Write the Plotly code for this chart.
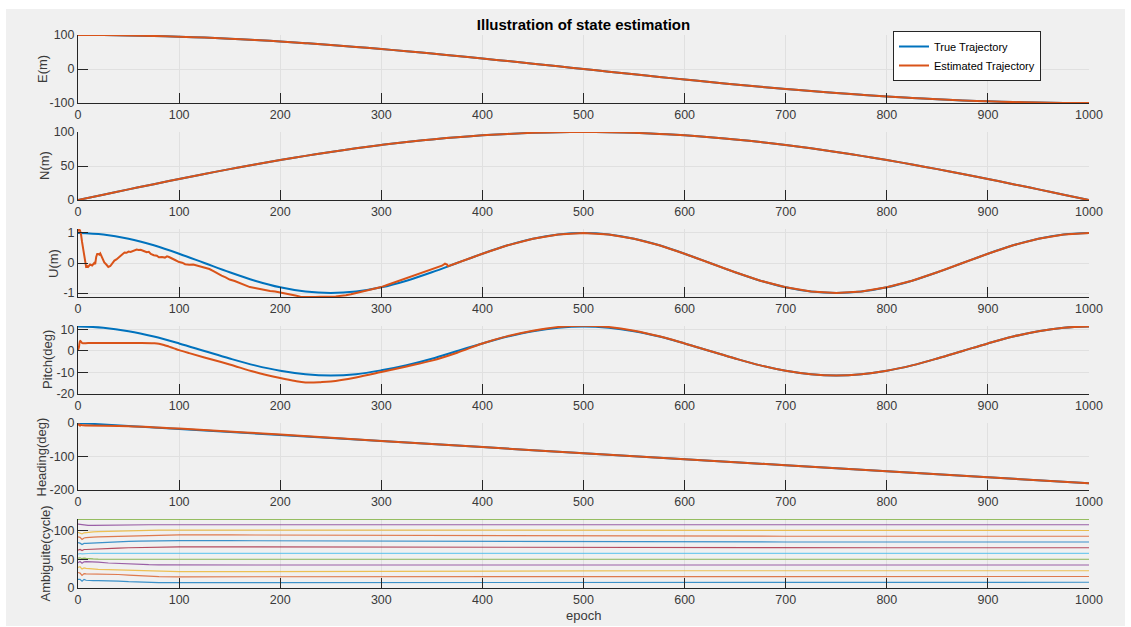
import plotly.graph_objects as go

W, H = 1131, 627

# ---------------- data ----------------
ep25 = [0, 25, 50, 75, 100, 125, 150, 175, 200, 225, 250, 275, 300, 325, 350, 375, 400,
        425, 450, 475, 500, 525, 550, 575, 600, 625, 650, 675, 700, 725, 750, 775, 800,
        825, 850, 875, 900, 925, 950, 975, 1000]

true_E = [100, 99.7, 98.8, 97.2, 95.1, 92.4, 89.1, 85.2, 80.9, 76.0, 70.7, 64.9, 58.8, 52.2,
          45.4, 38.3, 30.9, 23.3, 15.6, 7.8, 0, -7.8, -15.6, -23.3, -30.9, -38.3, -45.4,
          -52.2, -58.8, -64.9, -70.7, -76.0, -80.9, -85.2, -89.1, -92.4, -95.1, -97.2,
          -98.8, -99.7, -100]
est_E = [100, 99.7, 98.8, 97.2, 95.1, 92.4, 89.1, 85.2, 80.9, 76.0, 70.7, 64.9, 58.8, 52.2,
         45.4, 38.3, 30.9, 23.3, 15.6, 7.8, 0, -7.8, -15.6, -23.3, -30.9, -38.3, -45.4,
         -52.2, -58.8, -64.9, -70.7, -76.0, -80.9, -85.2, -89.1, -92.4, -95.1, -97.2,
         -98.8, -99.7, -100]

true_N = [0, 7.8, 15.6, 23.3, 30.9, 38.3, 45.4, 52.2, 58.8, 64.9, 70.7, 76.0, 80.9, 85.2,
          89.1, 92.4, 95.1, 97.2, 98.8, 99.7, 100, 99.7, 98.8, 97.2, 95.1, 92.4, 89.1, 85.2,
          80.9, 76.0, 70.7, 64.9, 58.8, 52.2, 45.4, 38.3, 30.9, 23.3, 15.6, 7.8, 0]
est_N = [0, 7.8, 15.6, 23.3, 30.9, 38.3, 45.4, 52.2, 58.8, 64.9, 70.7, 76.0, 80.9, 85.2,
         89.1, 92.4, 95.1, 97.2, 98.8, 99.7, 100, 99.7, 98.8, 97.2, 95.1, 92.4, 89.1, 85.2,
         80.9, 76.0, 70.7, 64.9, 58.8, 52.2, 45.4, 38.3, 30.9, 23.3, 15.6, 7.8, 0]

true_U = [1, 0.951, 0.809, 0.588, 0.309, 0, -0.309, -0.588, -0.809, -0.951, -1, -0.951,
          -0.809, -0.588, -0.309, 0, 0.309, 0.588, 0.809, 0.951, 1, 0.951, 0.809, 0.588,
          0.309, 0, -0.309, -0.588, -0.809, -0.951, -1, -0.951, -0.809, -0.588, -0.309, 0,
          0.309, 0.588, 0.809, 0.951, 1]

est_U_ep = [0, 1, 2, 3, 4, 5, 6, 7, 8, 9, 10, 12, 14, 16, 17, 18, 19, 20, 21, 22, 24, 26, 28,
            30, 32, 34, 36, 38, 40, 42, 44, 46, 48, 50, 52, 55, 58, 60, 62, 65, 68, 70, 72,
            75, 78, 80, 83, 86, 88, 90, 93, 96, 100, 103, 106, 110, 114, 118, 122, 126, 130,
            134, 138, 142, 146, 150, 155, 160, 165, 170, 175, 180, 185, 190, 195, 200, 205,
            210, 215, 220, 225, 230, 235, 240, 245, 250, 255, 260, 265, 270, 275, 280, 285,
            290, 295, 300, 305, 310, 315, 320, 325, 330, 335, 340, 345, 350, 355, 360, 363,
            364, 365, 366, 375, 400, 425, 450, 475, 500, 525, 550, 575, 600, 625, 650, 675,
            700, 725, 750, 775, 800, 825, 850, 875, 900, 925, 950, 975, 1000]
est_U = [1.05, 1.12, 1.08, 0.95, 0.7, 0.45, 0.35, 0.05, -0.12, -0.1, -0.13, -0.05, -0.08,
         0.0, -0.04, 0.2, 0.3, 0.3, 0.28, 0.32, 0.15, 0.02, -0.05, -0.13, -0.1, 0.0, 0.08,
         0.12, 0.18, 0.22, 0.3, 0.35, 0.34, 0.38, 0.37, 0.42, 0.45, 0.43, 0.44, 0.4, 0.36,
         0.37, 0.3, 0.26, 0.24, 0.19, 0.2, 0.18, 0.22, 0.2, 0.14, 0.1, 0.03, 0.01, -0.04,
         -0.06, -0.05, -0.09, -0.14, -0.18, -0.2, -0.27, -0.35, -0.42, -0.48, -0.55, -0.6,
         -0.66, -0.72, -0.8, -0.83, -0.87, -0.9, -0.93, -0.95, -0.98, -1.0, -1.05, -1.08,
         -1.12, -1.13, -1.12, -1.13, -1.12, -1.13, -1.12, -1.11, -1.1, -1.07, -1.04, -1.0,
         -0.97, -0.93, -0.89, -0.85, -0.8, -0.74, -0.68, -0.62, -0.57, -0.52, -0.45, -0.4,
         -0.33, -0.27, -0.2, -0.14, -0.09, -0.02, -0.04, -0.05, -0.11, 0, 0.309, 0.588,
         0.809, 0.951, 1, 0.951, 0.809, 0.588, 0.309, 0, -0.309, -0.588, -0.809, -0.951,
         -1, -0.951, -0.809, -0.588, -0.309, 0, 0.309, 0.588, 0.809, 0.951, 1]

true_P = [11.4, 10.8, 9.2, 6.7, 3.5, 0, -3.5, -6.7, -9.2, -10.8, -11.4, -10.8, -9.0, -6.6,
          -3.6, 0, 3.5, 6.7, 9.2, 10.8, 11.4, 10.8, 9.2, 6.7, 3.5, 0, -3.5, -6.7, -9.2,
          -10.8, -11.4, -10.8, -9.2, -6.7, -3.5, 0, 3.5, 6.7, 9.2, 10.8, 11.4]

est_P_ep = [0, 1, 2, 3, 4, 5, 10, 20, 40, 60, 75, 80, 85, 90, 95, 100, 110, 125, 150, 175,
            200, 215, 225, 240, 250, 275, 300, 325, 350, 375, 400, 425, 450, 475, 500, 525,
            550, 575, 600, 625, 650, 675, 700, 725, 750, 775, 800, 825, 850, 875, 900, 925,
            950, 975, 1000]
est_P = [0.5, 2.0, 4.7, 4.3, 3.7, 3.6, 3.7, 3.7, 3.7, 3.7, 3.6, 3.4, 2.8, 2.0, 1.2, 0.4,
         -1.0, -3.0, -6.3, -9.8, -12.6, -14.0, -14.6, -14.5, -14.2, -12.3, -9.8, -7.2,
         -4.5, -0.8, 3.5, 6.9, 9.4, 11.1, 11.7, 11.1, 9.4, 6.8, 3.5, 0, -3.5, -6.7, -9.2,
         -10.8, -11.4, -10.8, -9.2, -6.7, -3.5, 0, 3.5, 6.7, 9.2, 10.8, 11.4]

head_ep = [0, 100, 200, 300, 400, 500, 600, 700, 800, 900, 1000]
true_Hd = [0, -18, -36, -54, -72, -90, -108, -126, -144, -162, -180]
est_Hd_ep = [0, 1, 2, 3, 5, 50, 100, 200, 300, 400, 500, 600, 700, 800, 900, 1000]
est_Hd = [-7, -4, -8, -6, -7, -9.5, -16.5, -34.5, -53.5, -72, -90, -108, -126, -144, -162, -180]

amb_ep = [0, 2, 4, 6, 8, 10, 15, 20, 30, 40, 50, 60, 70, 80, 100, 150, 200, 300, 400, 500,
          600, 700, 800, 900, 1000]
amb_1 = [15, 15, 12, 15, 13.5, 13, 13, 13, 12.8, 12, 11, 10.2, 9.6, 9.4, 9.3, 9.3, 9.4, 9.6,
         9.8, 10, 10, 10, 10, 10, 10]
amb_2 = [27, 26, 22, 25, 24.5, 24.5, 24.3, 24.2, 24, 23.5, 22.5, 21.5, 20.5, 19.8, 19.5,
         19.5, 19.5, 19.6, 19.8, 20, 20, 20, 20, 20, 20]
amb_3 = [36, 37, 33, 35, 34, 33.6, 33, 32.5, 31.8, 31.3, 30.8, 30, 29.4, 29, 28.6, 28.4,
         28.4, 28.6, 29.2, 29.7, 30, 30, 30, 30, 30]
amb_4 = [44, 46, 43, 45.5, 45.8, 45.8, 45.6, 45, 43.5, 42.5, 41.8, 41, 40.5, 40.2, 40, 40,
         40, 40, 40, 40, 40, 40, 40, 40, 40]
amb_5 = [52, 52.5, 51, 52, 51.5, 51, 50.5, 50.2, 50, 50, 50, 50, 50, 50, 50, 50, 50, 50, 50,
         50, 50, 50, 50, 50, 50]
amb_6 = [59, 60, 59.5, 60, 60, 60, 60.2, 60.3, 60.3, 60.3, 60.3, 60.3, 60.3, 60.3, 60.3,
         60.3, 60.3, 60.3, 60.3, 60.3, 60.3, 60.3, 60.3, 60.3, 60.3]
amb_7 = [66, 67, 65, 67, 67, 67.2, 67.5, 68, 68.8, 69.5, 70, 70.5, 71, 71.2, 71.5, 71.5,
         71.3, 71, 70.7, 70.4, 70.2, 70, 70, 70, 70]
amb_8 = [79, 78, 75.5, 77.5, 77.5, 77.7, 78, 78.5, 79.5, 80.5, 81, 81.5, 82, 82.2, 82.3,
         82.3, 82, 81.5, 81, 80.6, 80.3, 80, 80, 80, 80]
amb_9 = [89, 88, 84.5, 87, 87.5, 88, 88.5, 89, 89.5, 90, 90.5, 91, 91.5, 92, 92.3, 92.3,
         92, 91.5, 91, 90.6, 90.3, 90, 90, 90, 90]
amb_10 = [97, 96, 94, 96, 96.5, 97, 97.5, 98, 98.6, 99.2, 99.7, 100, 100.3, 100.6, 100.8,
          100.8, 100.7, 100.5, 100.3, 100.2, 100, 100, 100, 100, 100]
amb_11 = [111, 110.5, 109.5, 109, 109, 109, 109, 109.2, 109.4, 109.6, 109.8, 110, 110, 110,
          110, 110, 110, 110, 110, 110, 110, 110, 110, 110, 110]
amb_12 = [119.4] * 25
amb_series = [amb_1, amb_2, amb_3, amb_4, amb_5, amb_6, amb_7, amb_8, amb_9, amb_10,
              amb_11, amb_12]

x_ticks = [0, 100, 200, 300, 400, 500, 600, 700, 800, 900, 1000]
x_ticktext = ["0", "100", "200", "300", "400", "500", "600", "700", "800", "900", "1000"]
y_labels = ["E(m)", "N(m)", "U(m)", "Pitch(deg)", "Heading(deg)", "Ambiguite(cycle)"]
y_ranges = [[-100, 100], [0, 100], [-1.13, 1.13], [-20, 11.6], [-200, 0], [0, 120]]
y_ticks = [[-100, 0, 100], [0, 50, 100], [-1, 0, 1], [-20, -10, 0, 10], [-200, -100, 0],
           [0, 50, 100]]
y_ticktext = [["-100", "0", "100"], ["0", "50", "100"], ["-1", "0", "1"],
              ["-20", "-10", "0", "10"], ["-200", "-100", "0"], ["0", "50", "100"]]

# ---------------- styling ----------------
BLUE = "#0072BD"
ORANGE = "#D95319"
MCOL = ["#0072BD", "#D95319", "#EDB120", "#7E2F8E", "#77AC30", "#4DBEEE", "#A2142F"]
AX = "#262626"
TXT = "#3a3a3a"
GRID = "#e0e0e0"
FONT = "Liberation Sans, Arial, sans-serif"

panels_px = [(35, 103), (132, 200), (229, 297), (326, 394), (423, 490), (519, 588)]
ylab_x = [42, 45, 54, 47, 41, 45]
xdom = [78 / W, 1089 / W]

fig = go.Figure()


def ax(i):
    return ("x" if i == 0 else f"x{i+1}"), ("y" if i == 0 else f"y{i+1}")


pairs = [(ep25, true_E, ep25, est_E), (ep25, true_N, ep25, est_N),
         (ep25, true_U, est_U_ep, est_U), (ep25, true_P, est_P_ep, est_P),
         (head_ep, true_Hd, est_Hd_ep, est_Hd)]

for i, (tx, ty, ex, ey) in enumerate(pairs):
    xa, ya = ax(i)
    fig.add_trace(go.Scatter(x=tx, y=ty, mode="lines", name="True Trajectory",
                             line=dict(color=BLUE, width=2, shape="spline"),
                             xaxis=xa, yaxis=ya, showlegend=(i == 0)))
    shape = "linear" if i == 2 else "spline"
    fig.add_trace(go.Scatter(x=ex, y=ey, mode="lines", name="Estimated Trajectory",
                             line=dict(color=ORANGE, width=2, shape=shape),
                             xaxis=xa, yaxis=ya, showlegend=(i == 0)))

xa, ya = ax(5)
for k, s in enumerate(amb_series):
    fig.add_trace(go.Scatter(x=amb_ep, y=s, mode="lines", opacity=0.75,
                             line=dict(color=MCOL[k % 7], width=1.2),
                             xaxis=xa, yaxis=ya, showlegend=False))

layout = dict(
    template="none",
    width=W, height=H, margin=dict(l=0, r=0, t=0, b=0, pad=0, autoexpand=False),
    paper_bgcolor="white", plot_bgcolor="white",
    font=dict(family=FONT, size=13, color=TXT),
    title=dict(text="<b>Illustration of state estimation</b>", x=583.5 / W, xanchor="center",
               y=1 - 25 / H, yanchor="middle", font=dict(size=15, color="#000000")),
    legend=dict(x=893 / W, y=1 - 31 / H, xanchor="left", yanchor="top", bgcolor="white",
                bordercolor=AX, borderwidth=1, font=dict(size=11, color="#000000"),
                tracegroupgap=0, entrywidth=122, entrywidthmode="pixels"),
    shapes=[dict(type="rect", xref="paper", yref="paper", x0=6 / W, x1=1125 / W,
                 y0=1 - 626 / H, y1=1 - 9 / H, fillcolor="#F0F0F0", line=dict(width=0),
                 layer="below")],
    annotations=[],
)

for i in range(6):
    xa, ya = ax(i)
    xk = "xaxis" if i == 0 else f"xaxis{i+1}"
    yk = "yaxis" if i == 0 else f"yaxis{i+1}"
    top, bot = panels_px[i]
    layout[xk] = dict(domain=xdom, anchor=ya, range=[0, 1000], tickmode="array",
                      tickvals=x_ticks, ticktext=x_ticktext, automargin=False,
                      showgrid=True, gridcolor=GRID, gridwidth=1, zeroline=False,
                      showline=True, linecolor=AX, linewidth=1, ticks="inside", ticklen=10,
                      tickwidth=1, tickcolor=AX, tickfont=dict(size=12.5, color=TXT))
    layout[yk] = dict(domain=[1 - bot / H, 1 - top / H], anchor=xa, range=y_ranges[i],
                      tickmode="array", tickvals=y_ticks[i], ticktext=y_ticktext[i],
                      automargin=False, showgrid=True, gridcolor=GRID, gridwidth=1,
                      zeroline=False, showline=True, linecolor=AX, linewidth=1,
                      ticks="inside", ticklen=10, tickwidth=1, tickcolor=AX,
                      tickfont=dict(size=12.5, color=TXT))
    layout["annotations"].append(dict(text=y_labels[i], xref="paper", yref="paper",
                                      x=ylab_x[i] / W, y=1 - (top + bot) / 2 / H,
                                      xanchor="center", yanchor="middle", textangle=-90,
                                      showarrow=False, font=dict(size=13, color=TXT)))

layout["annotations"].append(dict(text="epoch", xref="paper", yref="paper", x=583.5 / W,
                                  y=1 - 615 / H, xanchor="center", yanchor="middle",
                                  showarrow=False, font=dict(size=13, color=TXT)))

fig.update_layout(**layout)
fig.write_html("out.html")
